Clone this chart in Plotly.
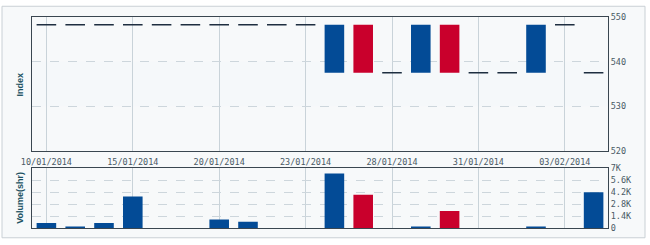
import plotly.graph_objects as go

dates = ["10/01/2014", "13/01/2014", "14/01/2014", "15/01/2014", "16/01/2014",
         "17/01/2014", "20/01/2014", "21/01/2014", "22/01/2014", "23/01/2014",
         "24/01/2014", "27/01/2014", "28/01/2014", "29/01/2014", "30/01/2014",
         "31/01/2014", "01/02/2014", "02/02/2014", "03/02/2014", "04/02/2014"]
open_ = [548.25] * 10 + [537.5, 548.25, 537.5, 537.5, 548.25, 537.5, 537.5, 537.5, 548.25, 537.5]
close = [548.25] * 10 + [548.25, 537.5, 537.5, 548.25, 537.5, 537.5, 537.5, 548.25, 548.25, 537.5]
volume = [600, 150, 600, 3700, 0, 0, 1000, 730, 0, 0,
          6400, 3900, 0, 100, 2000, 0, 0, 100, 0, 4200]
label_idx = [0, 3, 6, 9, 12, 15, 18]
price_ticks = [520, 530, 540, 550]
vol_ticks = [0, 1400, 2800, 4200, 5600, 7000]
vol_ticktext = ["0", "1.4K", "2.8K", "4.2K", "5.6K", "7K"]

BLUE = "#034b96"
RED = "#c9002c"
DASH = "#1e2e40"
FONT = "DejaVu Sans Mono"
TXT = "#4a5a66"

n = len(dates)
xs = list(range(n))
fig = go.Figure()

# candle bodies
for i in xs:
    if open_[i] != close[i]:
        col = BLUE if close[i] > open_[i] else RED
        fig.add_trace(go.Bar(x=[i], y=[abs(close[i] - open_[i])], base=[min(open_[i], close[i])],
                             width=0.68, marker=dict(color=col, line=dict(width=0)),
                             xaxis="x", yaxis="y", showlegend=False))
# flat days as dashes
dx, dy = [], []
for i in xs:
    if open_[i] == close[i]:
        dx += [i - 0.34, i + 0.34, None]
        dy += [open_[i], close[i], None]
fig.add_trace(go.Scatter(x=dx, y=dy, mode="lines", line=dict(color=DASH, width=1.6),
                         xaxis="x", yaxis="y", showlegend=False, hoverinfo="skip"))

# volume
vcol = [BLUE if close[i] >= open_[i] else RED for i in xs]
fig.add_trace(go.Bar(x=xs, y=volume, width=0.68, marker=dict(color=vcol, line=dict(width=0)),
                     xaxis="x2", yaxis="y2", showlegend=False))

# frame and band
W = 576.0
H = 216.0
def px(xp):
    return (xp - 32) / W
def py(yp):
    return (230 - yp) / H

shapes = [
    dict(type="rect", xref="paper", yref="paper", x0=px(2), x1=px(645), y0=py(240), y1=py(3),
         fillcolor="#f7f9fa", line=dict(color="#c9d0d5", width=1), layer="below"),
    dict(type="rect", xref="x", yref="y", x0=-0.5, x1=n - 0.5, y0=530, y1=540,
         fillcolor="#f5f8fa", line=dict(width=0), layer="below"),
]

annotations = [
    dict(text="<b>Index</b>", xref="paper", yref="paper", x=px(20), y=py(83), showarrow=False,
         xanchor="center", yanchor="middle",
         textangle=-90, font=dict(family="Liberation Sans", size=9, color="#1c5263")),
    dict(text="<b>Volume(shr)</b>", xref="paper", yref="paper", x=px(20), y=py(199), showarrow=False,
         xanchor="center", yanchor="middle",
         textangle=-90, font=dict(family="Liberation Sans", size=9, color="#1c5263")),
]

fig.update_layout(
    width=650, height=245,
    margin=dict(l=32, r=42, t=14, b=16),
    paper_bgcolor="white", plot_bgcolor="white",
    barmode="overlay",
    shapes=shapes, annotations=annotations,
    font=dict(family=FONT, size=9, color=TXT),
    xaxis=dict(domain=[0, 1], anchor="y", range=[-0.5, n - 0.5],
               tickvals=label_idx, ticktext=[dates[i] for i in label_idx],
               showgrid=True, gridcolor="#c9d3d9", gridwidth=1, ticks="",
               ticklabelstandoff=3,
               showline=True, linecolor="#3a4650", linewidth=1, mirror=True, zeroline=False,
               tickfont=dict(family=FONT, size=8.5, color=TXT)),
    yaxis=dict(domain=[py(151), 1], anchor="x", side="right", range=[520, 550],
               tickvals=price_ticks, showgrid=True, gridcolor="#cdd6dc", griddash="dash",
               showline=True, linecolor="#3a4650", linewidth=1, mirror=True, zeroline=False,
               ticks="", tickfont=dict(family=FONT, size=8.5, color=TXT)),
    xaxis2=dict(domain=[0, 1], anchor="y2", range=[-0.5, n - 0.5],
                tickvals=label_idx, showticklabels=False,
                showgrid=True, gridcolor="#c9d3d9", gridwidth=1, ticks="",
                showline=True, linecolor="#3a4650", linewidth=1, mirror=True, zeroline=False),
    yaxis2=dict(domain=[0, py(169)], anchor="x2", side="right", range=[0, 7000],
                tickvals=vol_ticks, ticktext=vol_ticktext, showgrid=True, gridcolor="#cdd6dc",
                griddash="dash", showline=True, linecolor="#3a4650", linewidth=1, mirror=True,
                zeroline=False, ticks="", tickfont=dict(family=FONT, size=8.5, color=TXT)),
)

fig.write_html("out.html")
